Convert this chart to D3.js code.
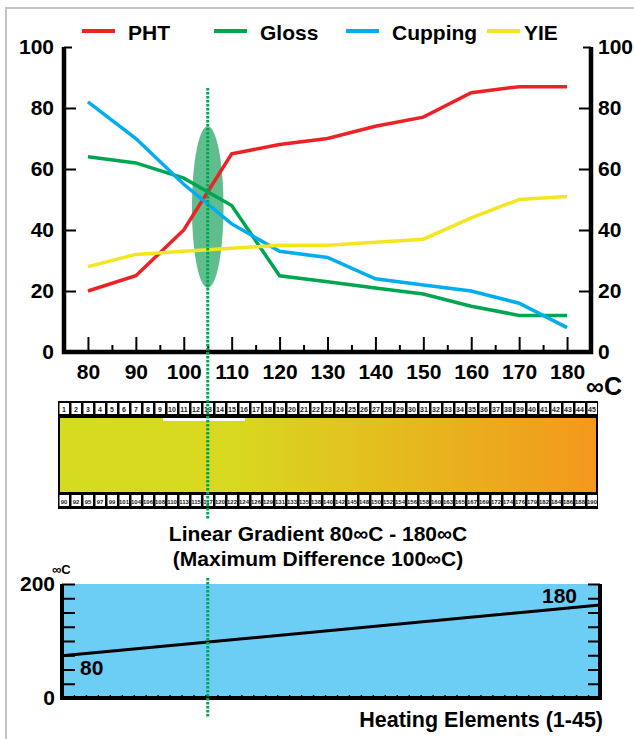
<!DOCTYPE html>
<html><head><meta charset="utf-8">
<script src="https://cdn.jsdelivr.net/npm/d3@7/dist/d3.min.js"></script>
<style>
body{margin:0;background:#fff}
svg{display:block}
text{font-family:"Liberation Sans",Arial,Helvetica,sans-serif;font-weight:bold;fill:#000}
</style>
</head><body>
<svg id="c" width="634" height="739"></svg>
<script>
// ---------- data ----------
const temps = [80, 90, 100, 110, 120, 130, 140, 150, 160, 170, 180];
const pht = [20, 25, 40, 65, 68, 70, 74, 77, 85, 87, 87];
const gloss = [64, 62, 57, 48, 25, 23, 21, 19, 15, 12, 12];
const cupping = [82, 70, 55, 42, 33, 31, 24, 22, 20, 16, 8];
const yie = [28, 32, 33, 34, 35, 35, 36, 37, 44, 50, 51];
const seriesNames = ["PHT", "Gloss", "Cupping", "YIE"];
const seriesColors = ["#ec2227", "#00a550", "#00aeef", "#f4e61e"];
const yTicks = [0, 20, 40, 60, 80, 100];
const xTicks = [80, 90, 100, 110, 120, 130, 140, 150, 160, 170, 180];
const xMinorTicks = [85, 95, 105, 115, 125, 135, 145, 155, 165, 175];
const markerTemp = 105;
const markerCenter = 47.5, markerHalfHeight = 26.5, markerHalfWidth = 3.3;

const elements = [1,2,3,4,5,6,7,8,9,10,11,12,13,14,15,16,17,18,19,20,21,22,23,24,25,26,27,28,29,30,31,32,33,34,35,36,37,38,39,40,41,42,43,44,45];
const elementTemps = [90,92,95,97,99,101,104,106,108,110,113,115,117,120,122,124,126,129,131,133,135,138,140,142,145,148,150,152,154,156,158,160,163,165,167,169,172,174,176,179,182,184,186,188,190];

const profileElements = [0.5, 45.5];
const profileTemps = [74, 163];
const profileLabels = ["80", "180"];
const profileTicks = [0, 25, 50, 75, 100, 125, 150, 175, 200];

// ---------- svg ----------
const svg = d3.select("#c");
const FS = 21;

// light grey frame
svg.append("path").attr("d", "M6,739V8H634").attr("fill", "none")
  .attr("stroke", "#c4c4c4").attr("stroke-width", 2);

// ---------- top chart ----------
const x = d3.scaleLinear().domain([75, 185]).range([64, 591]);
const y = d3.scaleLinear().domain([0, 100]).range([352, 47]);

// marker ellipse
svg.append("ellipse")
  .attr("cx", x(markerTemp)).attr("cy", y(markerCenter))
  .attr("rx", x(markerTemp + markerHalfWidth) - x(markerTemp))
  .attr("ry", y(0) - y(markerHalfHeight))
  .attr("fill", "#60bd8e");

const series = [pht, gloss, cupping, yie];
const line = d3.line().x((d, i) => x(temps[i])).y(d => y(d));
series.forEach((s, k) => {
  svg.append("path").datum(s).attr("d", line)
    .attr("fill", "none").attr("stroke", seriesColors[k])
    .attr("stroke-width", 3.5).attr("stroke-linejoin", "miter");
});

// axes
function styleAxis(g, fs) {
  g.selectAll(".tick line").attr("stroke", "#000").attr("stroke-width", 2);
  g.selectAll(".tick text").attr("font-size", fs).attr("font-weight", "bold")
    .attr("font-family", '"Liberation Sans",Arial,sans-serif').attr("fill", "#000");
  g.select(".domain").remove();
}
const gl = svg.append("g").attr("transform", `translate(${x.range()[0]},0)`)
  .call(d3.axisLeft(y).tickValues(yTicks).tickSize(-12).tickSizeOuter(0).tickPadding(10));
styleAxis(gl, FS);
gl.selectAll(".tick").filter(d => d === 100).select("line").attr("x2", 8);
const gr = svg.append("g").attr("transform", `translate(${x.range()[1]},0)`)
  .call(d3.axisRight(y).tickValues(yTicks).tickSize(-12).tickSizeOuter(0).tickPadding(7));
styleAxis(gr, FS);
gr.selectAll(".tick").filter(d => d === 100).select("line").attr("x2", -8);
const gb = svg.append("g").attr("transform", `translate(0,${y(0)})`)
  .call(d3.axisBottom(x).tickValues(xTicks).tickSize(-15).tickSizeOuter(0).tickPadding(8));
styleAxis(gb, FS);
gb.selectAll(".tick text").attr("dy", "0.9em");
const gbm = svg.append("g").attr("transform", `translate(0,${y(0)})`)
  .call(d3.axisBottom(x).tickValues(xMinorTicks).tickSize(-7).tickSizeOuter(0).tickFormat(""));
styleAxis(gbm, 10);
// thick axis lines
svg.append("path")
  .attr("d", `M${x.range()[0]},${y(100)}V${y(0)}H${x.range()[1]}V${y(100)}`)
  .attr("fill", "none").attr("stroke", "#000").attr("stroke-width", 4.5);
// unit label
svg.append("text").attr("x", 622).attr("y", 395).attr("text-anchor", "end")
  .attr("font-size", 25).text("∞C");

// legend
const legendX = [82, 214, 346, 487];
seriesNames.forEach((n, k) => {
  svg.append("line").attr("x1", legendX[k]).attr("x2", legendX[k] + 33)
    .attr("y1", 31).attr("y2", 31).attr("stroke", seriesColors[k]).attr("stroke-width", 4);
  svg.append("text").attr("x", legendX[k] + (k === 3 ? 37 : 46)).attr("y", 40)
    .attr("font-size", FS).text(n);
});

// ---------- gradient block ----------
const xb = d3.scaleBand().domain(elements).range([58, 598]).paddingInner(0);
svg.append("rect").attr("x", 58).attr("y", 401).attr("width", 540).attr("height", 108).attr("fill", "#000");
const defs = svg.append("defs");
const grad = defs.append("linearGradient").attr("id", "g1").attr("x1", "0%").attr("x2", "100%");
grad.append("stop").attr("offset", "0%").attr("stop-color", "#d5dc1f");
grad.append("stop").attr("offset", "32%").attr("stop-color", "#d8d820");
grad.append("stop").attr("offset", "100%").attr("stop-color", "#f4981c");
svg.append("rect").attr("x", 60).attr("y", 418).attr("width", 536).attr("height", 74).attr("fill", "url(#g1)");
svg.append("rect").attr("x", 163).attr("y", 418).attr("width", 82).attr("height", 3).attr("fill", "#fff");

function cellRow(labels, y0, fs) {
  const g = svg.append("g");
  g.selectAll("rect").data(elements).join("rect")
    .attr("x", d => xb(d) + 1.5).attr("y", y0).attr("width", xb.bandwidth() - 2.5).attr("height", 11)
    .attr("fill", "#fff");
  g.selectAll("text").data(elements).join("text")
    .attr("x", d => xb(d) + xb.bandwidth() / 2).attr("y", y0 + 8.5)
    .attr("text-anchor", "middle").attr("font-size", fs)
    .attr("font-weight", "normal").style("fill", "#222")
    .text((d, i) => labels[i]);
}
cellRow(elements, 403, 7);
cellRow(elementTemps, 495, 6);

// title
svg.append("text").attr("x", 318).attr("y", 541).attr("text-anchor", "middle")
  .attr("font-size", FS).text("Linear Gradient 80∞C - 180∞C");
svg.append("text").attr("x", 318).attr("y", 566).attr("text-anchor", "middle")
  .attr("font-size", FS).text("(Maximum Difference 100∞C)");

// ---------- profile chart ----------
const xe = d3.scaleLinear().domain([0.5, 45.5]).range([62, 600]);
const ye = d3.scaleLinear().domain([0, 200]).range([698, 584]);
svg.append("rect").attr("x", xe(0.5)).attr("y", ye(200))
  .attr("width", xe(45.5) - xe(0.5)).attr("height", ye(0) - ye(200)).attr("fill", "#6ccdf5");

const el = svg.append("g").attr("transform", `translate(${xe(0.5)},0)`)
  .call(d3.axisLeft(ye).tickValues(profileTicks).tickSize(-13).tickSizeOuter(0).tickPadding(7)
    .tickFormat(d => (d === 0 || d === 200) ? d : ""));
styleAxis(el, FS);
const er = svg.append("g").attr("transform", `translate(${xe(45.5)},0)`)
  .call(d3.axisRight(ye).tickValues(profileTicks).tickSize(-12).tickSizeOuter(0).tickFormat(""));
styleAxis(er, 10);
const eb = svg.append("g").attr("transform", `translate(0,${ye(0)})`)
  .call(d3.axisBottom(xe).tickValues(elements.slice(0, 44).map(d => d + 0.5)).tickSize(-3).tickSizeOuter(0).tickFormat(""));
styleAxis(eb, 10);
eb.selectAll(".tick line").attr("stroke-width", 1.5);
svg.append("path")
  .attr("d", `M${xe(0.5)},${ye(200)}V${ye(0)}H${xe(45.5)}V${ye(200)}`)
  .attr("fill", "none").attr("stroke", "#000").attr("stroke-width", 4);

svg.append("path").datum(profileTemps)
  .attr("d", d3.line().x((d, i) => xe(profileElements[i])).y(d => ye(d)))
  .attr("fill", "none").attr("stroke", "#000").attr("stroke-width", 3);
svg.append("text").attr("x", xe(profileElements[0]) + 18).attr("y", ye(profileTemps[0]) + 19)
  .attr("font-size", FS).text(profileLabels[0]);
svg.append("text").attr("x", xe(profileElements[1]) - 23).attr("y", ye(profileTemps[1]) - 2)
  .attr("text-anchor", "end").attr("font-size", FS).text(profileLabels[1]);
svg.append("text").attr("x", 52).attr("y", 574).attr("font-size", 13).text("∞C");
svg.append("text").attr("x", 603).attr("y", 727).attr("text-anchor", "end")
  .attr("font-size", 21.5).text("Heating Elements (1-45)");

// ---------- marker dashed line ----------
[[88, 520], [578, 718]].forEach(([a, b]) => {
  svg.append("line").attr("x1", x(markerTemp)).attr("x2", x(markerTemp))
    .attr("y1", a).attr("y2", b).attr("stroke", "#00a550").attr("stroke-width", 3)
    .attr("stroke-dasharray", "2.5,1.5");
});
</script>
</body></html>
